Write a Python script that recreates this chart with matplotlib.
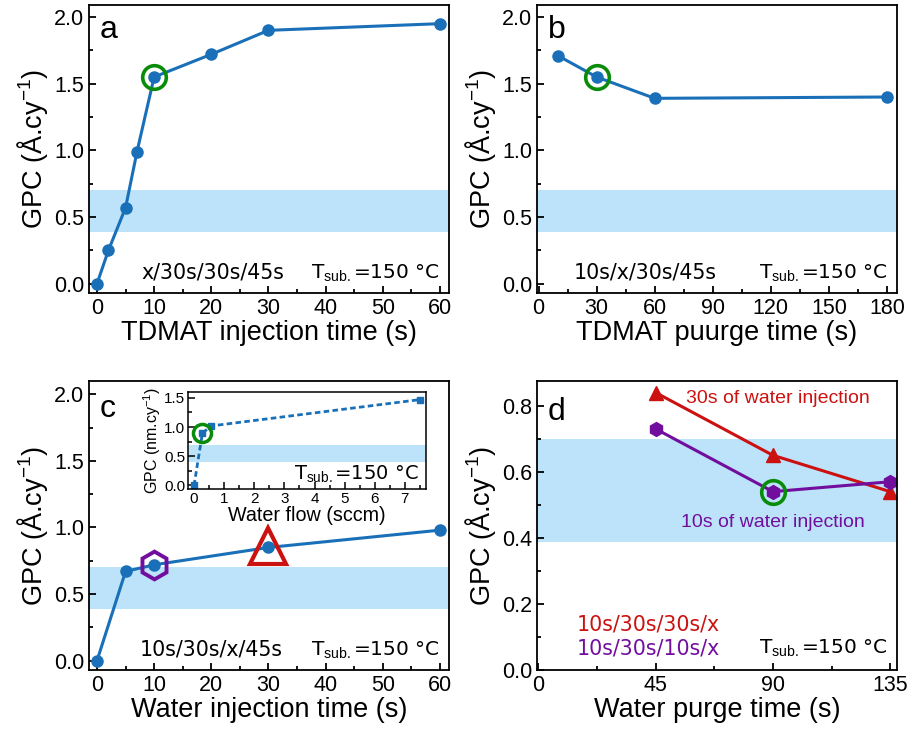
import numpy as np
import matplotlib.pyplot as plt
from matplotlib.ticker import MultipleLocator

# data
a_x = [0, 2, 5, 7, 10, 20, 30, 60]
a_y = [0.0, 0.25, 0.57, 0.99, 1.55, 1.72, 1.90, 1.95]

b_x = [10, 30, 60, 180]
b_y = [1.71, 1.55, 1.39, 1.40]

c_x = [0, 5, 10, 30, 60]
c_y = [0.0, 0.67, 0.72, 0.85, 0.98]

ins_x = [0, 0.28, 0.58, 7.5]
ins_y = [0.0, 0.90, 1.02, 1.47]

d_x = [45, 90, 135]
d_red = [0.84, 0.65, 0.54]
d_purple = [0.73, 0.54, 0.57]

band = (0.387, 0.70)

BLUE = '#1a70b8'
GREEN = '#0a8c0a'
RED = '#cc1111'
PURPLE = '#720e9e'
BAND = '#bde3fa'

SANS = 'Liberation Sans'
DV = 'DejaVu Sans'

plt.rcParams['font.family'] = SANS
plt.rcParams['mathtext.fontset'] = 'custom'
plt.rcParams['mathtext.rm'] = SANS
plt.rcParams['mathtext.it'] = SANS

fig = plt.figure(figsize=(9.08, 7.39), dpi=100)
W, H = 908, 739

TICK_FS = 15.5
LAB_FS = 19.5
NOTE_FS = 14.8


def px_axes(l, t, r, b):
    return fig.add_axes([l / W, 1 - b / H, (r - l) / W, (b - t) / H])


def style(ax, fs=TICK_FS, lw=1.3):
    ax.tick_params(which='both', direction='in', top=False, right=False,
                   labelsize=fs, width=lw)
    ax.tick_params(which='major', length=5)
    ax.tick_params(which='minor', length=3)
    for s in ax.spines.values():
        s.set_linewidth(lw)


def tsub(ax, x, y, fs=14.5):
    ax.text(x, y, r'T$_{\mathrm{sub.}}$=150 °C', transform=ax.transAxes,
            ha='right', va='baseline', fontsize=fs, family=DV)


ylab = r'GPC (Å.cy$^{-1}$)'

# panel a
ax = px_axes(89, 5, 449, 293)
ax.axhspan(*band, color=BAND, lw=0, zorder=0)
ax.plot(a_x, a_y, '-o', color=BLUE, lw=2.2, ms=8)
ax.plot(10, 1.55, 'o', ms=17, mfc='none', mec=GREEN, mew=2.6)
ax.set_xlim(-1.4, 61.6)
ax.set_ylim(-0.07, 2.09)
ax.xaxis.set_major_locator(MultipleLocator(10))
ax.xaxis.set_minor_locator(MultipleLocator(5))
ax.yaxis.set_major_locator(MultipleLocator(0.5))
ax.yaxis.set_minor_locator(MultipleLocator(0.25))
style(ax)
ax.set_xlabel('TDMAT injection time (s)', fontsize=LAB_FS, labelpad=1)
ax.set_ylabel(ylab, fontsize=LAB_FS, labelpad=3)
ax.text(0.03, 0.885, 'a', transform=ax.transAxes, fontsize=23)
ax.text(0.345, 0.05, 'x/30s/30s/45s', transform=ax.transAxes, ha='center',
        va='baseline', fontsize=NOTE_FS, family=DV)
tsub(ax, 0.975, 0.05)

# panel b
ax = px_axes(537, 5, 897, 293)
ax.axhspan(*band, color=BAND, lw=0, zorder=0)
ax.plot(b_x, b_y, '-o', color=BLUE, lw=2.2, ms=8)
ax.plot(30, 1.55, 'o', ms=17, mfc='none', mec=GREEN, mew=2.6)
ax.set_xlim(-0.8, 185.2)
ax.set_ylim(-0.07, 2.09)
ax.xaxis.set_major_locator(MultipleLocator(30))
ax.xaxis.set_minor_locator(MultipleLocator(15))
ax.yaxis.set_major_locator(MultipleLocator(0.5))
ax.yaxis.set_minor_locator(MultipleLocator(0.25))
style(ax)
ax.set_xlabel('TDMAT puurge time (s)', fontsize=LAB_FS, labelpad=1)
ax.set_ylabel(ylab, fontsize=LAB_FS, labelpad=3)
ax.text(0.03, 0.885, 'b', transform=ax.transAxes, fontsize=23)
ax.text(0.30, 0.05, '10s/x/30s/45s', transform=ax.transAxes, ha='center',
        va='baseline', fontsize=NOTE_FS, family=DV)
tsub(ax, 0.975, 0.05)

# panel c
ax = px_axes(89, 381, 449, 670)
ax.axhspan(*band, color=BAND, lw=0, zorder=0)
ax.plot(c_x, c_y, '-o', color=BLUE, lw=2.2, ms=8)
ax.plot(10, 0.72, 'h', ms=20, mfc='none', mec=PURPLE, mew=2.8)
ax.plot(30, 0.86, '^', ms=26, mfc='none', mec=RED, mew=3)
ax.set_xlim(-1.4, 61.6)
ax.set_ylim(-0.07, 2.1)
ax.xaxis.set_major_locator(MultipleLocator(10))
ax.xaxis.set_minor_locator(MultipleLocator(5))
ax.yaxis.set_major_locator(MultipleLocator(0.5))
ax.yaxis.set_minor_locator(MultipleLocator(0.25))
style(ax)
ax.set_xlabel('Water injection time (s)', fontsize=LAB_FS, labelpad=1)
ax.set_ylabel(ylab, fontsize=LAB_FS, labelpad=3)
ax.text(0.03, 0.875, 'c', transform=ax.transAxes, fontsize=23)
ax.text(0.34, 0.05, '10s/30s/x/45s', transform=ax.transAxes, ha='center',
        va='baseline', fontsize=NOTE_FS, family=DV)
tsub(ax, 0.975, 0.05)

# inset
ins = px_axes(188, 392, 426, 489)
ins.axhspan(0.40, 0.70, color=BAND, lw=0, zorder=0)
ins.plot(ins_x, ins_y, '--s', color=BLUE, lw=2, ms=5, dashes=(2, 1.2))
ins.plot(0.28, 0.90, 'o', ms=13, mfc='none', mec=GREEN, mew=2.5)
ins.set_xlim(-0.2, 7.7)
ins.set_ylim(-0.06, 1.6)
ins.xaxis.set_major_locator(MultipleLocator(1))
ins.xaxis.set_minor_locator(MultipleLocator(0.5))
ins.yaxis.set_major_locator(MultipleLocator(0.5))
ins.yaxis.set_minor_locator(MultipleLocator(0.25))
style(ins, fs=11, lw=1.1)
ins.tick_params(which='both', pad=2)
ins.set_xlabel('Water flow (sccm)', fontsize=14.2, labelpad=0)
ins.set_ylabel(r'GPC (nm.cy$^{-1}$)', fontsize=11.5, labelpad=1)
tsub(ins, 0.97, 0.1, fs=14)

# panel d
ax = px_axes(537, 381, 897, 670)
ax.axhspan(*band, color=BAND, lw=0, zorder=0)
ax.plot(d_x, d_red, '-^', color=RED, lw=2.2, ms=10)
ax.plot(d_x, d_purple, '-h', color=PURPLE, lw=2.2, ms=10)
ax.plot(90, 0.54, 'o', ms=17, mfc='none', mec=GREEN, mew=2.6)
ax.set_xlim(-0.5, 137.6)
ax.set_ylim(0, 0.875)
ax.xaxis.set_major_locator(MultipleLocator(45))
ax.xaxis.set_minor_locator(MultipleLocator(22.5))
ax.yaxis.set_major_locator(MultipleLocator(0.2))
ax.yaxis.set_minor_locator(MultipleLocator(0.1))
style(ax)
ax.set_xlabel('Water purge time (s)', fontsize=LAB_FS, labelpad=1)
ax.set_ylabel(ylab, fontsize=LAB_FS, labelpad=3)
ax.text(0.03, 0.865, 'd', transform=ax.transAxes, fontsize=23)
ax.text(0.415, 0.925, '30s of water injection', transform=ax.transAxes,
        fontsize=14, color=RED)
ax.text(0.40, 0.495, '10s of water injection', transform=ax.transAxes,
        fontsize=14, color=PURPLE)
ax.text(0.11, 0.135, '10s/30s/30s/x', transform=ax.transAxes, fontsize=NOTE_FS,
        color=RED, family=DV)
ax.text(0.11, 0.055, '10s/30s/10s/x', transform=ax.transAxes, fontsize=NOTE_FS,
        color=PURPLE, family=DV)
tsub(ax, 0.975, 0.055)

fig.savefig('out.png', dpi=100)
